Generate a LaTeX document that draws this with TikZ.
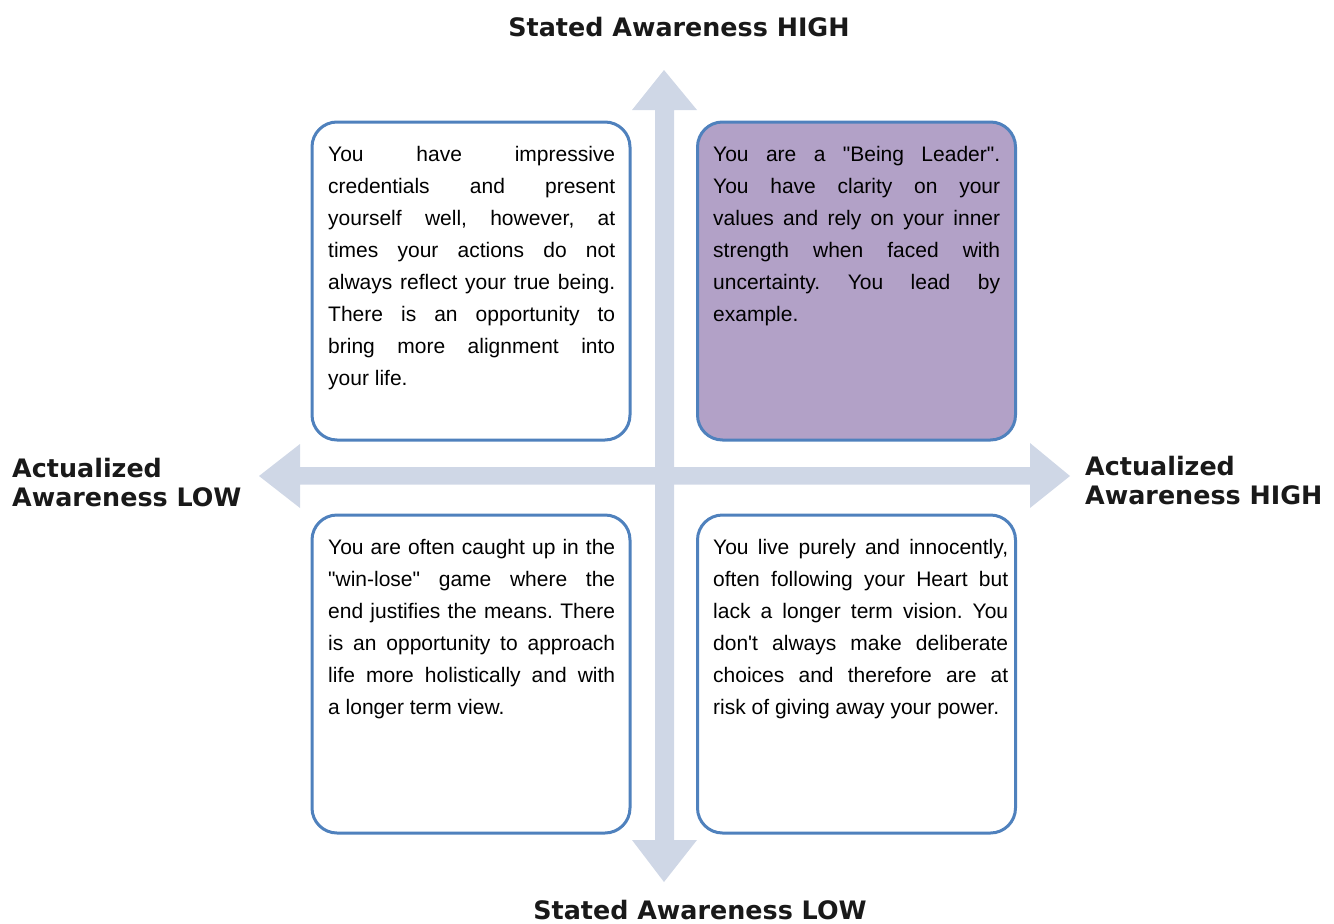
\documentclass[tikz,border=0pt]{standalone}
\usepackage{fontspec}
\newfontfamily\bodyfont{Liberation Sans}
\newfontfamily\titlefont{DejaVu Sans}
\definecolor{arrowcol}{HTML}{CFD7E6}
\definecolor{boxline}{HTML}{4F81BD}
\definecolor{boxfill}{HTML}{B2A1C7}
\frenchspacing
\begin{document}
\begin{tikzpicture}[x=1pt,y=-1pt,
  quad/.style={draw=boxline, line width=3pt, rounded corners=25pt, fill=white,
    minimum width=318pt, minimum height=318pt, inner sep=0pt},
  quadtext/.style={anchor=base west, inner sep=0pt, font=\bodyfont\fontsize{21}{32}\selectfont},
  axislabel/.style={inner sep=0pt, font=\titlefont\bfseries\fontsize{25.4}{29}\selectfont, text=black!90},
  axisarrow/.style={fill=arrowcol, draw=none}]
\useasboundingbox (0,0) rectangle (1334,924);
% axis arrows
\coordinate (vtop) at (664,70);
\coordinate (vbot) at (664,882);
\coordinate (hleft) at (259,476);
\coordinate (hright) at (1070,476);
\fill[axisarrow] (vtop) -- (697,110) -- (674,110) -- (674,840) -- (697,840) -- (vbot)
  -- (632,840) -- (655,840) -- (655,110) -- (632,110) -- cycle;
\fill[axisarrow] (hleft) -- (300,444) -- (300,467) -- (1030,467) -- (1030,443) -- (hright)
  -- (1030,508) -- (1030,484.5) -- (300,484.5) -- (300,508) -- cycle;
% boxes
\node[quad] (tl) at (471,281) {};
\node[quad, fill=boxfill] (tr) at (856.5,281) {};
\node[quad] (bl) at (471,674) {};
\node[quad] (br) at (856.5,674) {};
\node[quadtext] (tltext) at (328,161) {\parbox[t]{287pt}{\bodyfont\fontsize{21}{32}\selectfont
You have impressive\linebreak credentials and present\linebreak yourself well, however, at\linebreak times your actions do not\linebreak always reflect your true being.\linebreak There is an opportunity to\linebreak bring more alignment into\linebreak your life.}};
\node[quadtext] (trtext) at (713,161) {\parbox[t]{287pt}{\bodyfont\fontsize{21}{32}\selectfont
You are a "Being Leader".\linebreak You have clarity on your\linebreak values and rely on your inner\linebreak strength when faced with\linebreak uncertainty. You lead by\linebreak example.}};
\node[quadtext] (bltext) at (328,554) {\parbox[t]{287pt}{\bodyfont\fontsize{21}{32}\selectfont
You are often caught up in the\linebreak "win-lose" game where the\linebreak end justifies the means. There\linebreak is an opportunity to approach\linebreak life more holistically and with\linebreak a longer term view.}};
\node[quadtext] (brtext) at (713,554) {\parbox[t]{295pt}{\bodyfont\fontsize{21}{32}\selectfont
You live purely and innocently,\linebreak often following your Heart but\linebreak lack a longer term vision. You\linebreak don't always make deliberate\linebreak choices and therefore are at\linebreak risk of giving away your power.}};
% axis labels
\node[axislabel, anchor=base] (top) at (679,36) {Stated Awareness HIGH};
\node[axislabel, anchor=base] (bottom) at (700,919) {Stated Awareness LOW};
\node[axislabel, anchor=base west, align=left] (left) at (12,477) {\parbox[t]{300pt}{\titlefont\bfseries\fontsize{25.4}{29}\selectfont Actualized\\Awareness LOW}};
\node[axislabel, anchor=base west, align=left] (right) at (1085,475) {\parbox[t]{300pt}{\titlefont\bfseries\fontsize{25.4}{29}\selectfont Actualized\\Awareness HIGH}};
\end{tikzpicture}
\end{document}
